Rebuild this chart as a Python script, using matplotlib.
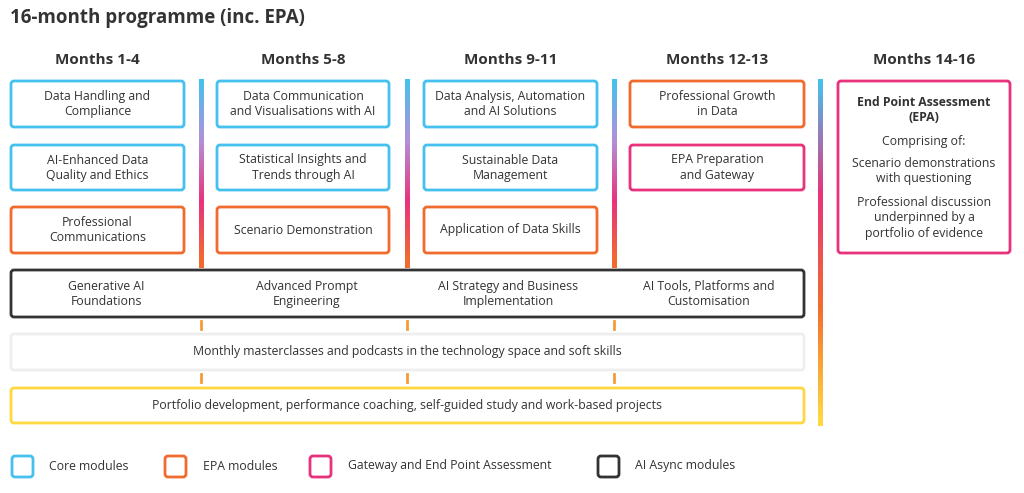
import matplotlib
matplotlib.use("Agg")
import matplotlib.pyplot as plt
from matplotlib.patches import FancyBboxPatch
from matplotlib.collections import LineCollection
from matplotlib.colors import LinearSegmentedColormap
import numpy as np

plt.rcParams['font.family'] = ['Open Sans', 'DejaVu Sans']

title = "16-month programme (inc. EPA)"
headers = ["Months 1-4", "Months 5-8", "Months 9-11", "Months 12-13", "Months 14-16"]
modules = [
    [("Data Handling and\nCompliance", "core"), ("AI-Enhanced Data\nQuality and Ethics", "core"), ("Professional\nCommunications", "epa")],
    [("Data Communication\nand Visualisations with AI", "core"), ("Statistical Insights and\nTrends through AI", "core"), ("Scenario Demonstration", "epa")],
    [("Data Analysis, Automation\nand AI Solutions", "core"), ("Sustainable Data\nManagement", "core"), ("Application of Data Skills", "epa")],
    [("Professional Growth\nin Data", "epa"), ("EPA Preparation\nand Gateway", "gate")],
]
async_modules = ["Generative AI\nFoundations", "Advanced Prompt\nEngineering",
                 "AI Strategy and Business\nImplementation", "AI Tools, Platforms and\nCustomisation"]
masterclass = "Monthly masterclasses and podcasts in the technology space and soft skills"
portfolio = "Portfolio development, performance coaching, self-guided study and work-based projects"
legend_labels = [("Core modules", "core"), ("EPA modules", "epa"),
                 ("Gateway and End Point Assessment", "gate"), ("AI Async modules", "async")]
colors = {"core": "#45c1ee", "epa": "#f26b2e", "gate": "#e8327c", "async": "#333333"}
TXT = "#333333"
FS = 8.8

fig = plt.figure(figsize=(10.24, 4.93), dpi=100)
ax = fig.add_axes([0, 0, 1, 1])
ax.set_xlim(0, 1024)
ax.set_ylim(493, 0)
ax.axis("off")

def box(x0, y0, x1, y1, ec, lw=2.0):
    ax.add_patch(FancyBboxPatch((x0, y0), x1 - x0, y1 - y0,
                                boxstyle="round,pad=0,rounding_size=3",
                                fc="white", ec=ec, lw=lw))

def grad_line(x, y0, y1, cols, lw=2.2):
    cmap = LinearSegmentedColormap.from_list("g", cols)
    ys = np.linspace(y0, y1, 80)
    segs = [[(x, ys[i]), (x, ys[i + 1])] for i in range(len(ys) - 1)]
    lc = LineCollection(segs, colors=cmap(np.linspace(0, 1, len(segs))), lw=lw,
                        capstyle="projecting", antialiased=False)
    ax.add_collection(lc)

ax.text(10, 18, title, fontsize=13.5, fontweight="bold", color=TXT, va="center", ha="left")

col_x = [(11, 184), (217, 389), (424, 597), (630, 804), (838, 1010)]
rows = [(81, 127), (145, 190), (207, 253)]
for i, h in enumerate(headers):
    cx = (col_x[i][0] + col_x[i][1]) / 2
    ax.text(cx, 60, h, fontsize=11, fontweight="bold", color=TXT, ha="center", va="center")

for c, mods in enumerate(modules):
    x0, x1 = col_x[c]
    for r, (label, kind) in enumerate(mods):
        y0, y1 = rows[r]
        box(x0, y0, x1, y1, colors[kind])
        ax.text((x0 + x1) / 2, (y0 + y1) / 2, label, fontsize=FS, color=TXT,
                ha="center", va="center", linespacing=1.2)

x0, x1 = col_x[4]
box(x0, 81, x1, 253, colors["gate"])
ax.text((x0 + x1) / 2, 110, "End Point Assessment\n(EPA)", fontsize=FS, fontweight="bold",
        color=TXT, ha="center", va="center", linespacing=1.2)
ax.text((x0 + x1) / 2, 141, "Comprising of:", fontsize=FS, color=TXT, ha="center", va="center")
ax.text((x0 + x1) / 2, 171, "Scenario demonstrations\nwith questioning", fontsize=FS,
        color=TXT, ha="center", va="center", linespacing=1.2)
ax.text((x0 + x1) / 2, 218, "Professional discussion\nunderpinned by a\nportfolio of evidence",
        fontsize=FS, color=TXT, ha="center", va="center", linespacing=1.2)

for x in [201, 407, 614]:
    grad_line(x, 81, 265, ["#45c1ee", "#b38fd8", "#e8327c", "#f26b2e"])
    for ya, yb in [(321, 329), (374, 382)]:
        ax.plot([x, x], [ya, yb], color="#f79a3a", lw=2)
grad_line(820, 81, 423, ["#45c1ee", "#e8327c", "#f26b2e", "#ffd740"])

box(11, 270, 804, 317, colors["async"])
for cx, label in zip([106, 307, 508, 709], async_modules):
    ax.text(cx, 294, label, fontsize=FS, color=TXT, ha="center", va="center", linespacing=1.2)

box(11, 334, 804, 370, "#eeeeee")
ax.text(407, 352, masterclass, fontsize=FS, color=TXT, ha="center", va="center")
box(11, 388, 804, 423, "#ffd740")
ax.text(407, 406, portfolio, fontsize=FS, color=TXT, ha="center", va="center")

for (label, kind), (bx, tx) in zip(legend_labels, [(12, 49), (165, 203), (310, 348), (598, 635)]):
    box(bx, 456, bx + 21, 477, colors[kind])
    ax.text(tx, 466, label, fontsize=FS, color=TXT, ha="left", va="center")

fig.savefig("out.png", dpi=100, facecolor="white")
